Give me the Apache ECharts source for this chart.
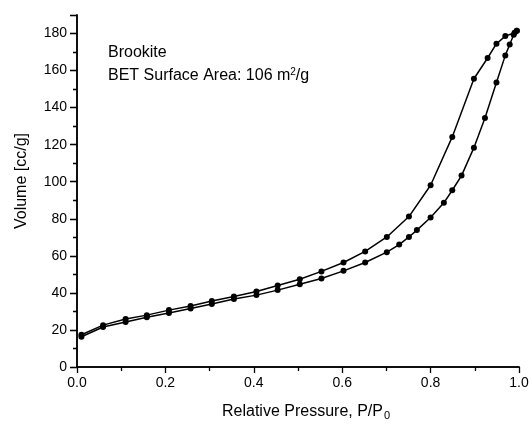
<!DOCTYPE html>
<html>
<head>
<meta charset="utf-8">
<script src="https://cdn.jsdelivr.net/npm/echarts@6/dist/echarts.min.js"></script>
<style>
html,body{margin:0;padding:0;background:#fff;}
#c{width:532px;height:430px;}
</style>
</head>
<body>
<div id="c"></div>
<script>
// Adsorption branch (lower)
var adsP = [0.010,0.059,0.110,0.158,0.208,0.257,0.305,0.355,0.406,0.454,0.504,0.553,0.603,0.652,0.701,0.729,0.751,0.769,0.800,0.830,0.849,0.870,0.898,0.923,0.949,0.969,0.979,0.988,0.995];
var adsV = [16.3,21.6,24.3,26.8,29.1,31.6,34.0,36.7,38.8,41.5,44.7,47.8,51.9,56.4,62.0,66.1,70.2,73.9,80.7,88.6,95.4,103.3,118.4,134.4,153.6,168.2,174.1,179.3,181.5];
// Desorption branch (upper)
var desP = [0.995,0.990,0.969,0.949,0.929,0.898,0.849,0.800,0.751,0.701,0.652,0.603,0.553,0.504,0.454,0.406,0.355,0.305,0.257,0.208,0.158,0.110,0.059,0.010];
var desV = [181.5,180.4,178.6,174.5,166.8,155.6,124.2,98.1,81.2,70.2,62.4,56.4,51.6,47.4,44.0,40.8,38.1,35.6,32.9,30.7,28.0,25.9,22.6,17.4];
var xTitle = 'Relative Pressure, P/P';
var xTitleSub = '0';
var yTitle = 'Volume [cc/g]';
var note1 = 'Brookite';
var note2 = 'BET Surface Area: 106 m';
var note2Sup = '2';
var note2End = '/g';

function pairs(xs, ys){ return xs.map(function(x,i){ return [x, ys[i]]; }); }

var FONT = '"Liberation Sans", Arial, sans-serif';
var chart = echarts.init(document.getElementById('c'), null, {renderer:'canvas'});
var axisLine = {show:true, lineStyle:{color:'#000', width:1.5}};
chart.setOption({
  animation:false,
  backgroundColor:'#fff',
  grid:{left:77, right:13, top:15, bottom:63},
  xAxis:[{
    type:'value', min:0, max:1, interval:0.2, position:'bottom',
    axisLine:axisLine,
    axisTick:{show:true, inside:false, length:6, lineStyle:{color:'#000', width:1.3}},
    minorTick:{show:true, splitNumber:2, length:4, lineStyle:{color:'#000', width:1.3}},
    axisLabel:{color:'#000', fontSize:14, fontFamily:FONT, margin:9,
      formatter:function(v){ return v.toFixed(1); }},
    splitLine:{show:false}
  },{
    type:'value', min:0, max:1, interval:0.2, position:'top',
    axisLine:axisLine,
    axisTick:{show:true, inside:true, length:2, lineStyle:{color:'#000', width:1}},
    minorTick:{show:false},
    axisLabel:{show:false}, splitLine:{show:false}
  }],
  yAxis:[{
    type:'value', min:0, max:190, interval:20, position:'left',
    axisLine:axisLine,
    axisTick:{show:true, inside:false, length:7, lineStyle:{color:'#000', width:1.3}},
    minorTick:{show:true, splitNumber:2, length:4, lineStyle:{color:'#000', width:1.3}},
    axisLabel:{color:'#000', fontSize:14, fontFamily:FONT, margin:10,
      showMaxLabel:false},
    splitLine:{show:false}
  },{
    type:'value', min:0, max:190, interval:20, position:'right',
    axisLine:axisLine,
    axisTick:{show:true, inside:true, length:7, lineStyle:{color:'#000', width:1.3}},
    minorTick:{show:true, splitNumber:2, length:4, lineStyle:{color:'#000', width:1.3}},
    axisLabel:{show:false}, splitLine:{show:false}
  }],
  series:[{
    type:'line', name:'Adsorption', xAxisIndex:0, yAxisIndex:0,
    data:pairs(adsP, adsV),
    symbol:'circle', symbolSize:6, showAllSymbol:true,
    lineStyle:{color:'#000', width:1.5},
    itemStyle:{color:'#000'}
  },{
    type:'line', name:'Desorption', xAxisIndex:0, yAxisIndex:0,
    data:pairs(desP, desV),
    symbol:'circle', symbolSize:6, showAllSymbol:true,
    lineStyle:{color:'#000', width:1.5},
    itemStyle:{color:'#000'}
  }],
  graphic:[{
    type:'text', left:108, top:45,
    style:{text:note1, font:'16px '+FONT, fill:'#000'}
  },{
    type:'text', left:108, top:67,
    style:{
      text:'{a|'+note2+'}{s|'+note2Sup+'}{a|'+note2End+'}',
      rich:{a:{fontSize:16, fontFamily:FONT, fill:'#000'},
            s:{fontSize:10, fontFamily:FONT, fill:'#000', verticalAlign:'top', padding:[0,0,7,0]}},
      fill:'#000'
    }
  },{
    type:'text', left:222, top:404,
    style:{
      text:'{a|'+xTitle+'}{s|'+xTitleSub+'}',
      rich:{a:{fontSize:16, fontFamily:FONT, fill:'#000'},
            s:{fontSize:11, fontFamily:FONT, fill:'#000', padding:[8,0,0,1]}},
      fill:'#000'
    }
  },{
    type:'text', x:22, y:181, rotation:Math.PI/2,
    style:{text:yTitle, font:'16px '+FONT, fill:'#000', align:'center', verticalAlign:'middle'}
  }]
});
</script>
</body>
</html>
